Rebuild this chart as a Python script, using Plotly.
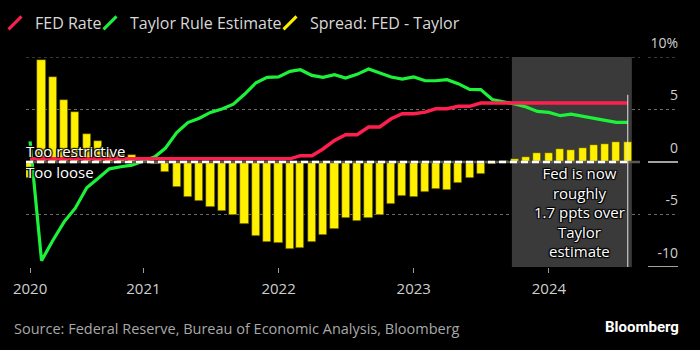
import plotly.graph_objects as go
import pandas as pd

# ---- data (monthly, Mar 2020 - Aug 2024) ----
months = [d.strftime("%Y-%m-%d") for d in pd.date_range("2020-03-01", "2024-08-01", freq="MS")]

fed_rate = [0.3, 0.3, 0.3, 0.3, 0.3, 0.3, 0.3, 0.3, 0.3, 0.3,
            0.3, 0.3, 0.3, 0.3, 0.3, 0.3, 0.3, 0.3, 0.3, 0.3,
            0.3, 0.3, 0.3, 0.3, 0.6, 0.6, 1.24, 2.06, 2.6, 2.6,
            3.33, 3.33, 4.12, 4.6, 4.6, 4.75, 5.07, 5.07, 5.3, 5.3,
            5.62, 5.62, 5.62, 5.62, 5.62, 5.62, 5.62, 5.62, 5.62, 5.62,
            5.62, 5.62, 5.62, 5.62]

taylor = [1.96, -9.4, -7.5, -5.7, -4.4, -2.45, -1.55, -0.65, -0.45, -0.3,
          0.1, 0.5, 1.3, 2.8, 3.75, 4.17, 4.72, 5.05, 5.5, 6.45,
          7.55, 8.06, 8.1, 8.63, 8.79, 8.25, 8.06, 8.31, 8.0, 8.35,
          8.86, 8.48, 8.1, 7.9, 8.1, 7.74, 7.74, 7.84, 7.46, 6.92,
          6.89, 5.95, 5.75, 5.52, 5.24, 4.82, 4.72, 4.41, 4.55, 4.34,
          4.1, 3.96, 3.77, 3.77]

spread = [-1.5, 9.74, 8.1, 5.93, 4.79, 2.7, 2.0, 1.0, 0.75, 0.7,
          0.1, -0.15, -0.95, -2.38, -3.33, -3.71, -4.32, -4.64, -5.08, -5.9,
          -7.02, -7.65, -7.75, -8.26, -8.19, -7.62, -6.95, -6.38, -5.37, -5.65,
          -5.37, -5.08, -3.97, -3.24, -3.37, -2.86, -2.6, -2.7, -2.0, -1.52,
          -1.18, -0.23, 0.05, 0.31, 0.47, 0.86, 0.86, 1.2, 1.1, 1.3,
          1.62, 1.71, 1.93, 1.93]

series_names = ["FED Rate", "Taylor Rule Estimate", "Spread: FED - Taylor"]
x_tickvals = ["2020-03-01", "2021-01-01", "2022-01-01", "2023-01-01", "2024-01-01"]
x_ticktext = ["2020", "2021", "2022", "2023", "2024"]
y_tickvals = [-10, -5, 0, 5, 10]
y_ticktext = ["-10", "-5", "0", "5", "10%"]
dotted_grid = [10, 5, -5]
solid_marks = [0, -10]

# ---- styling ----
RED = "#ff1f4f"
GREEN = "#1cf23a"
YELLOW = "#fff000"
W, H = 700, 350
L, R, T, B = 26, 22, 57, 83
paper_w = W - L - R
plot_h = H - T - B
xdom = (640 - L) / paper_w

def px_x(px):
    return (px - L) / paper_w

def px_y(py):
    return (T + plot_h - py) / plot_h

fig = go.Figure()

fig.add_trace(go.Bar(x=months, y=spread, name=series_names[2], showlegend=False,
                     width=22 * 86400000, marker=dict(color=YELLOW, line=dict(color="#3a3600", width=0.6))))
fig.add_trace(go.Scatter(x=months, y=taylor, name=series_names[1], mode="lines", showlegend=False,
                         line=dict(color=GREEN, width=3.2)))
fig.add_trace(go.Scatter(x=months, y=fed_rate, name=series_names[0], mode="lines", showlegend=False,
                         line=dict(color=RED, width=3.5)))

# legend-only entries with slash icons, each in its own legend for exact placement
legend_ids = ["legend", "legend2", "legend3"]
legend_text_px = [35, 130, 310]
for nm, col, lid in zip(series_names, [RED, GREEN, YELLOW], legend_ids):
    fig.add_trace(go.Scatter(x=[None], y=[None], mode="markers", name=nm, legend=lid,
                             marker=dict(symbol="line-ne", size=13, line=dict(color=col, width=3))))

shapes = []
shapes.append(dict(type="rect", xref="x", yref="y", x0="2023-09-23", x1="2024-08-12", y0=-10, y1=10,
                   fillcolor="#3a3a3a", line=dict(width=0), layer="below"))
lab0 = px_x(648)
lab1 = px_x(678)
for g in dotted_grid:
    shapes.append(dict(type="line", xref="paper", yref="y", x0=0, x1=xdom, y0=g, y1=g,
                       line=dict(color="#6a6a6a", width=1, dash="dot"), layer="below"))
    shapes.append(dict(type="line", xref="paper", yref="y", x0=lab0, x1=lab1, y0=g, y1=g,
                       line=dict(color="#6a6a6a", width=1, dash="dot"), layer="below"))
for g in solid_marks:
    shapes.append(dict(type="line", xref="paper", yref="y", x0=lab0, x1=lab1, y0=g, y1=g,
                       line=dict(color="#d8d8d8", width=1.5), layer="below"))
shapes.append(dict(type="line", xref="paper", yref="y", x0=0, x1=xdom, y0=0, y1=0,
                   line=dict(color="#5a5a5a", width=2.5), layer="above"))
shapes.append(dict(type="line", xref="paper", yref="y", x0=0, x1=xdom - 10 / paper_w, y0=0, y1=0,
                   line=dict(color="#ffffff", width=2.5, dash="7px,4px"), layer="above"))
shapes.append(dict(type="line", xref="x", yref="y", x0=months[-1], x1=months[-1], y0=-10, y1=6.4,
                   line=dict(color="#e6e6e6", width=1), layer="above"))

outline = "1px 1px 1px #000, -1px -1px 1px #000, 1px -1px 1px #000, -1px 1px 1px #000"
annotations = [
    dict(text="Too restrictive", xref="paper", yref="y", x=0, y=1.08, xanchor="left", yanchor="middle",
         showarrow=False, xshift=-2, font=dict(family="Open Sans", size=15, color="#ffffff", shadow=outline)),
    dict(text="Too loose", xref="paper", yref="y", x=0, y=-0.93, xanchor="left", yanchor="middle",
         showarrow=False, xshift=-2, font=dict(family="Open Sans", size=15, color="#ffffff", shadow=outline)),
    dict(text="Fed is now<br>roughly<br>1.7 ppts over<br>Taylor<br>estimate", xref="x", yref="y",
         x="2024-03-24", y=-4.73, xanchor="center", yanchor="middle", align="center", showarrow=False,
         font=dict(family="Open Sans", size=15, color="#ffffff", shadow=outline)),
    dict(text="Source: Federal Reserve, Bureau of Economic Analysis, Bloomberg", xref="paper", yref="paper",
         x=px_x(12), y=px_y(328), xanchor="left", yanchor="middle",
         showarrow=False, font=dict(family="Open Sans", size=14.5, color="#a8a8a8")),
    dict(text="<b>Bloomberg</b>", xref="paper", yref="paper",
         x=px_x(681), y=px_y(327), xanchor="right", yanchor="middle",
         showarrow=False, font=dict(family="Roboto", size=15, color="#ffffff")),
]

legend_common = dict(orientation="h", xanchor="left", yanchor="middle", y=px_y(23),
                     font=dict(size=16, color="#d8d8d8"), bgcolor="rgba(0,0,0,0)", itemwidth=30)
legends = {}
for lid, tx in zip(legend_ids, legend_text_px):
    legends[lid] = dict(legend_common, x=px_x(tx - 40))

fig.update_layout(
    width=W, height=H,
    margin=dict(l=L, r=R, t=T, b=B, pad=0, autoexpand=False),
    paper_bgcolor="#000000", plot_bgcolor="#000000",
    font=dict(family="Open Sans", color="#d8d8d8"),
    bargap=0,
    hovermode=False,
    shapes=shapes,
    annotations=annotations,
    xaxis=dict(type="date", domain=[0, xdom], range=["2020-02-19", "2024-09-03"],
               tickvals=x_tickvals, ticktext=x_ticktext, ticks="outside", ticklen=5, tickwidth=1,
               tickcolor="#9a9a9a", showgrid=False, zeroline=False, showline=False,
               ticklabelstandoff=3, tickfont=dict(size=15, color="#cfcfcf")),
    yaxis=dict(range=[-10, 10], anchor="free", position=1, side="left",
               tickvals=y_tickvals, ticktext=y_ticktext, ticks="", showgrid=False, zeroline=False,
               showline=False, ticklabelshift=-14, tickfont=dict(size=14, color="#cfcfcf")),
    **legends,
)

fig.write_html("out.html")
